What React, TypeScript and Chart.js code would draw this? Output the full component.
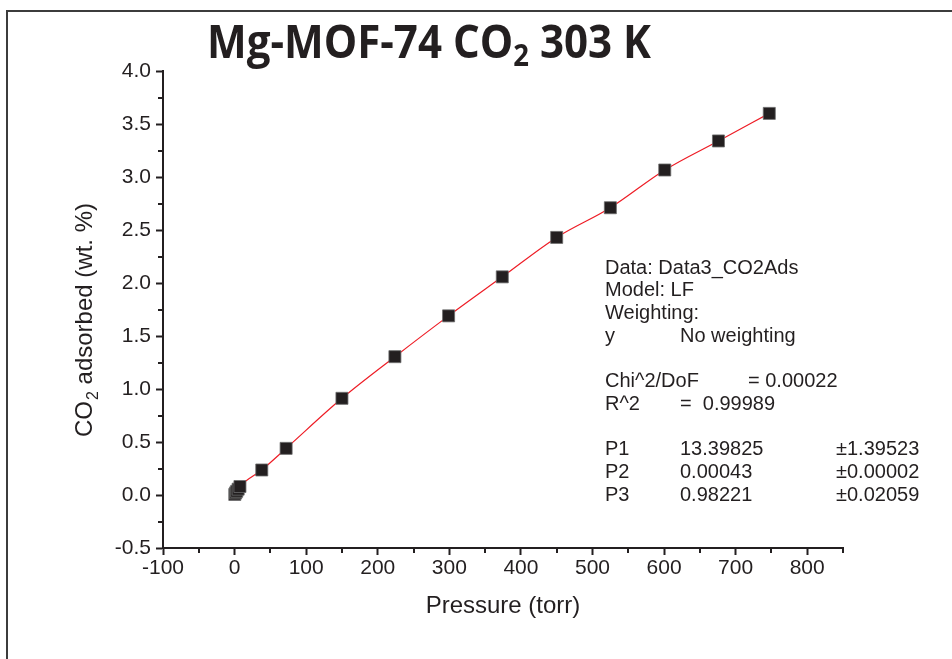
import { useEffect, useRef } from "react";
import { Chart, registerables } from "chart.js";

Chart.register(...registerables);

// Measured isotherm: CO2 uptake on Mg-MOF-74 at 303 K
const pressureTorr = [0.3, 1.5, 3.0, 5.0, 7.5, 38, 72, 150, 224, 299, 374, 450, 525, 601, 676, 747];
const co2WtPct = [0.005, 0.02, 0.035, 0.055, 0.08, 0.236, 0.44, 0.912, 1.305, 1.69, 2.058, 2.43, 2.71, 3.066, 3.34, 3.6];

const xMajorTicks = [-100, 0, 100, 200, 300, 400, 500, 600, 700, 800];
const xMinorTicks = [-50, 50, 150, 250, 350, 450, 550, 650, 750, 850];
const yMajorTicks = [-0.5, 0, 0.5, 1.0, 1.5, 2.0, 2.5, 3.0, 3.5, 4.0];
const yMinorTicks = [-0.25, 0.25, 0.75, 1.25, 1.75, 2.25, 2.75, 3.25, 3.75];

// Langmuir-Freundlich fit summary (tab-separated columns)
const fitReport = [
  "Data: Data3_CO2Ads",
  "Model: LF",
  "Weighting:",
  "y\tNo weighting",
  "",
  "Chi^2/DoF\t= 0.00022",
  "R^2\t=  0.99989",
  "",
  "P1\t13.39825\t±1.39523",
  "P2\t0.00043\t±0.00002",
  "P3\t0.98221\t±0.02059",
];

const INK = "#231f20";
const SANS = '"Liberation Sans", Arial, sans-serif';

const decorPlugin = {
  id: "decor",
  beforeDraw(chart: any) {
    const { ctx, width, height } = chart;
    ctx.save();
    ctx.fillStyle = "#ffffff";
    ctx.fillRect(0, 0, width, height);
    // outer frame (left and top edges)
    ctx.strokeStyle = "#3c3c3c";
    ctx.lineWidth = 2;
    ctx.beginPath();
    ctx.moveTo(7, height);
    ctx.lineTo(7, 11);
    ctx.lineTo(width, 11);
    ctx.stroke();
    ctx.restore();
  },
  afterDraw(chart: any) {
    const { ctx } = chart;
    const x = chart.scales.x;
    const y = chart.scales.y;
    ctx.save();

    // minor ticks
    ctx.strokeStyle = INK;
    ctx.lineWidth = 2;
    ctx.beginPath();
    for (const v of xMinorTicks) {
      const px = Math.round(x.getPixelForValue(v));
      ctx.moveTo(px, y.bottom);
      ctx.lineTo(px, y.bottom + 5);
    }
    for (const v of yMinorTicks) {
      const py = Math.round(y.getPixelForValue(v));
      ctx.moveTo(x.left, py);
      ctx.lineTo(x.left - 5, py);
    }
    ctx.stroke();

    // title with subscript
    ctx.fillStyle = INK;
    ctx.textBaseline = "alphabetic";
    ctx.textAlign = "left";
    const big = 'bold 46px "Open Sans", sans-serif';
    const sub = 'bold 30px "Open Sans", sans-serif';
    const parts: [string, string, number][] = [
      ["Mg-MOF-74 CO", big, 0],
      ["2", sub, 8],
      [" 303 K", big, 0],
    ];
    let total = 0;
    for (const [t, f] of parts) {
      ctx.font = f;
      total += ctx.measureText(t).width;
    }
    const sx = 444 / total;
    ctx.save();
    ctx.translate(207, 58);
    ctx.scale(sx, 1);
    let cx = 0;
    for (const [t, f, dy] of parts) {
      ctx.font = f;
      ctx.fillText(t, cx, dy);
      cx += ctx.measureText(t).width;
    }
    ctx.restore();

    // x axis title
    ctx.font = `24px ${SANS}`;
    ctx.textAlign = "center";
    ctx.textBaseline = "middle";
    ctx.fillText("Pressure (torr)", (x.left + x.right) / 2, 606);

    // y axis title, rotated, with subscript
    ctx.save();
    ctx.translate(92, 437);
    ctx.rotate(-Math.PI / 2);
    ctx.textAlign = "left";
    ctx.textBaseline = "alphabetic";
    ctx.font = `24px ${SANS}`;
    ctx.fillText("CO", 0, 0);
    let w = ctx.measureText("CO").width;
    ctx.font = `16px ${SANS}`;
    ctx.fillText("2", w + 1, 6);
    w += ctx.measureText("2").width + 1;
    ctx.font = `24px ${SANS}`;
    ctx.fillText(" adsorbed (wt. %)", w, 0);
    ctx.restore();

    // fit report
    ctx.font = `20px ${SANS}`;
    ctx.textAlign = "left";
    ctx.textBaseline = "middle";
    const stops = [680, 748, 836];
    const left = 605;
    const top = 268;
    const lineH = 22.7;
    fitReport.forEach((row, i) => {
      if (!row) return;
      const cells = row.split("\t");
      let cursor = left;
      cells.forEach((cell, j) => {
        let px = cursor;
        if (j > 0) {
          const next = stops.find((s) => s > cursor + 4);
          px = next !== undefined ? next : cursor + 20;
        }
        ctx.fillText(cell, px, top + i * lineH);
        cursor = px + ctx.measureText(cell).width;
      });
    });

    ctx.restore();
  },
};

export default function App() {
  const canvasRef = useRef<HTMLCanvasElement | null>(null);

  useEffect(() => {
    document.body.style.margin = "0";
    const canvas = canvasRef.current;
    if (!canvas) return;
    const points = pressureTorr.map((p, i) => ({ x: p, y: co2WtPct[i] }));

    const chart = new Chart(canvas, {
      type: "scatter",
      data: {
        datasets: [
          {
            label: "CO2 adsorbed",
            data: points,
            order: 1,
            showLine: false,
            pointStyle: "rect",
            pointRadius: 8.5,
            pointBackgroundColor: INK,
            pointBorderColor: "#6b6b6b",
            pointBorderWidth: 0.8,
          },
          {
            label: "LF fit",
            data: points,
            order: 2,
            showLine: true,
            borderColor: "#ee1c25",
            borderWidth: 1.2,
            pointRadius: 0,
            tension: 0.3,
            cubicInterpolationMode: "monotone",
          },
        ],
      },
      options: {
        responsive: false,
        animation: false,
        devicePixelRatio: 1,
        layout: { padding: { left: 0, top: 71, right: 109, bottom: 0 } },
        plugins: {
          legend: { display: false },
          tooltip: { enabled: false },
          title: { display: false },
        },
        scales: {
          x: {
            type: "linear",
            min: -100,
            max: 850,
            afterFit(scale: any) {
              scale.height = 111;
            },
            afterBuildTicks(scale: any) {
              scale.ticks = xMajorTicks.map((v) => ({ value: v }));
            },
            ticks: {
              color: INK,
              font: { family: SANS, size: 21 },
              padding: 1,
              maxRotation: 0,
              autoSkip: false,
              callback: (v: any) => String(v),
            },
            grid: {
              drawOnChartArea: false,
              drawTicks: true,
              tickLength: 7,
              tickWidth: 2,
              tickColor: INK,
            },
            border: { display: true, color: INK, width: 2 },
          },
          y: {
            type: "linear",
            min: -0.5,
            max: 4.0,
            afterFit(scale: any) {
              scale.width = 163;
            },
            afterBuildTicks(scale: any) {
              scale.ticks = yMajorTicks.map((v) => ({ value: v }));
            },
            ticks: {
              color: INK,
              font: { family: SANS, size: 21 },
              padding: 5,
              autoSkip: false,
              callback: (v: any) => Number(v).toFixed(1),
            },
            grid: {
              drawOnChartArea: false,
              drawTicks: true,
              tickLength: 7,
              tickWidth: 2,
              tickColor: INK,
            },
            border: { display: true, color: INK, width: 2 },
          },
        },
      },
      plugins: [decorPlugin],
    });

    return () => chart.destroy();
  }, []);

  return (
    <div style={{ width: 952, height: 659 }}>
      <canvas ref={canvasRef} width={952} height={659} style={{ display: "block" }} />
    </div>
  );
}
